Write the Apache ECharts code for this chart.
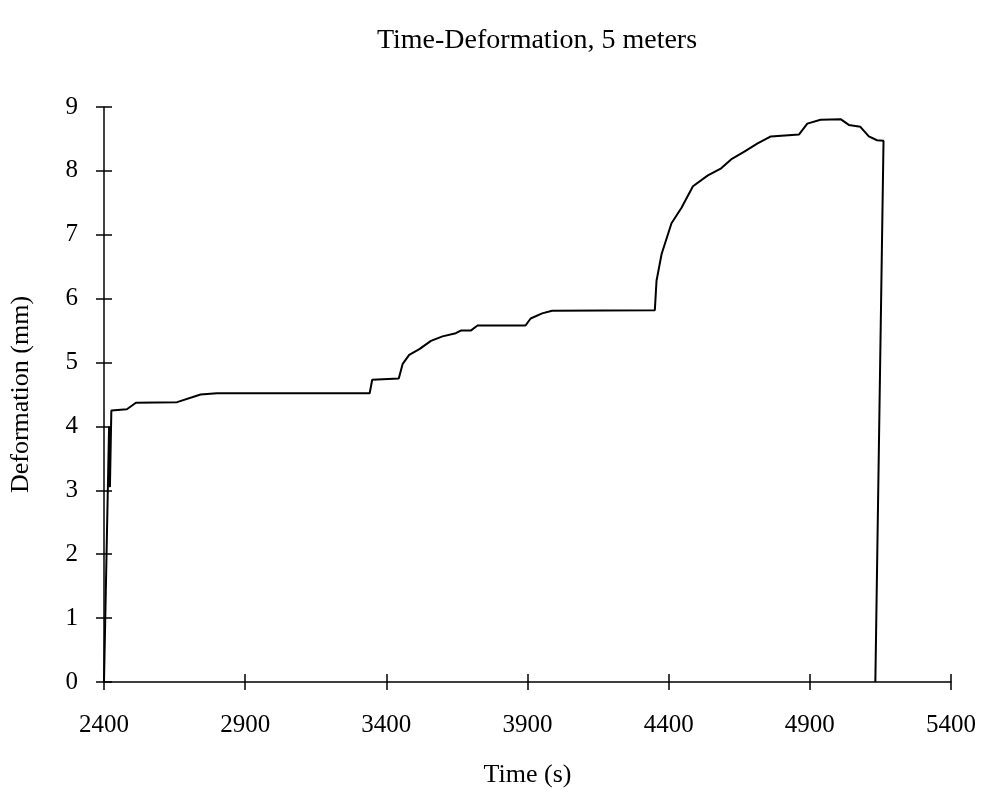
<!DOCTYPE html>
<html>
<head>
<meta charset="utf-8">
<script src="https://cdn.jsdelivr.net/npm/echarts@6/dist/echarts.min.js"></script>
<style>
  html, body { margin: 0; padding: 0; background: #fff; }
  #chart { width: 984px; height: 795px; }
</style>
</head>
<body>
<div id="chart"></div>
<script>
// Time (s) and deformation (mm) readings, 5 m gauge
const timeS = [
  2400, 2418, 2421, 2426, 2481, 2513, 2659, 2742, 2800, 3341, 3350, 3444,
  3458, 3481, 3517, 3558, 3599, 3646, 3664, 3699, 3723, 3893, 3911, 3952,
  3987, 4351, 4357, 4375, 4410, 4445, 4486, 4539, 4586, 4621, 4668, 4715,
  4762, 4862, 4891, 4938, 5009, 5038, 5079, 5109, 5138, 5161, 5132
];
const deformationMm = [
  0, 4.0, 3.05, 4.25, 4.27, 4.37, 4.38, 4.5, 4.52, 4.52, 4.73, 4.75,
  4.98, 5.12, 5.21, 5.34, 5.41, 5.46, 5.5, 5.5, 5.58, 5.58, 5.69, 5.77,
  5.81, 5.82, 6.28, 6.7, 7.18, 7.42, 7.76, 7.93, 8.04, 8.18, 8.3, 8.43,
  8.54, 8.57, 8.74, 8.8, 8.81, 8.72, 8.69, 8.54, 8.48, 8.47, 0
];

const xMin = 2400, xMax = 5400, xStep = 500;
const yMin = 0, yMax = 9, yStep = 1;

const titleText = 'Time-Deformation, 5 meters';
const xName = 'Time (s)';
const yName = 'Deformation (mm)';

const serif = '"Liberation Serif", "DejaVu Serif", serif';
const ink = '#000';

const points = timeS.map((t, i) => [t, deformationMm[i]]);

const chart = echarts.init(document.getElementById('chart'), null, { renderer: 'canvas' });

// Each axis is drawn twice (outside + inside ticks) to get crossing tick marks
function xAxisDef(inside, main) {
  return {
    type: 'value', position: 'bottom', min: xMin, max: xMax, interval: xStep,
    name: main ? xName : '', nameLocation: 'middle', nameGap: 80,
    nameTextStyle: { fontFamily: serif, fontSize: 26, color: ink },
    axisLine: { show: main, lineStyle: { color: ink, width: 1.5 } },
    axisTick: { show: true, inside: inside, length: 8, lineStyle: { color: ink, width: 1.5 } },
    axisLabel: {
      show: main, fontFamily: serif, fontSize: 25, color: ink, margin: 31,
      formatter: v => String(v)
    },
    splitLine: { show: false }
  };
}
function yAxisDef(inside, main) {
  return {
    type: 'value', position: 'left', min: yMin, max: yMax, interval: yStep,
    name: main ? yName : '', nameLocation: 'middle', nameGap: 70,
    nameTextStyle: { fontFamily: serif, fontSize: 26, color: ink },
    axisLine: { show: main, lineStyle: { color: ink, width: 1.5 } },
    axisTick: { show: true, inside: inside, length: 8, lineStyle: { color: ink, width: 1.5 } },
    axisLabel: {
      show: main, fontFamily: serif, fontSize: 25, color: ink, margin: 26,
      formatter: v => String(v)
    },
    splitLine: { show: false }
  };
}

chart.setOption({
  animation: false,
  backgroundColor: '#fff',
  title: {
    text: titleText, left: 532, top: 22, textAlign: 'center',
    textStyle: { fontFamily: serif, fontSize: 28, fontWeight: 'normal', color: ink }
  },
  grid: { left: 100, right: 33, top: 107, bottom: 113, containLabel: false },
  xAxis: [xAxisDef(false, true), xAxisDef(true, false)],
  yAxis: [yAxisDef(false, true), yAxisDef(true, false)],
  series: [{
    type: 'line', data: points, xAxisIndex: 0, yAxisIndex: 0,
    showSymbol: false, smooth: false,
    lineStyle: { color: ink, width: 2 },
    itemStyle: { color: ink }
  }]
});
</script>
</body>
</html>
